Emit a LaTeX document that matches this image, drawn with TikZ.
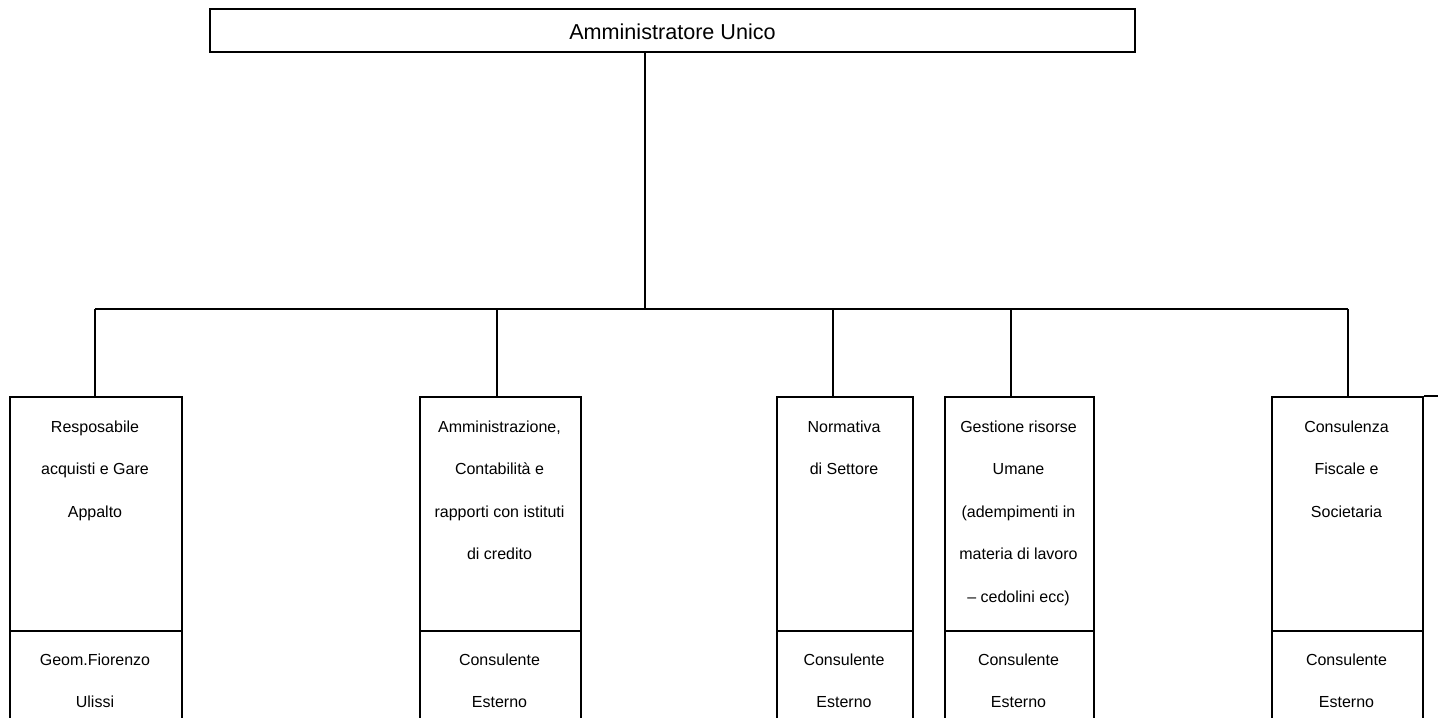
\documentclass[tikz,border=0pt]{standalone}
\usepackage{fontspec}
\setmainfont{Liberation Sans}
\begin{document}
\begin{tikzpicture}[x=1pt,y=-1pt,
  box/.style={draw, line width=2.2pt, rectangle, anchor=north west, inner sep=0pt},
  label/.style={anchor=north, align=center, inner sep=0pt, font=\fontsize{16pt}{42.5pt}\selectfont},
  link/.style={line width=2.2pt}]
\useasboundingbox (0,0) rectangle (1442,717);
\clip (0,0) rectangle (1442,717);
% top box
\node[box, minimum width=925pt, minimum height=43pt] (top) at (209,8) {};
\node[anchor=base, inner sep=0pt, font=\fontsize{21.6pt}{25pt}\selectfont] (toptext) at (672.5,40) {Amministratore Unico};
% upper boxes
\node[box, minimum width=172pt, minimum height=234pt] (b1) at (9,396) {};
\node[box, minimum width=161pt, minimum height=234pt] (b2) at (419,396) {};
\node[box, minimum width=136pt, minimum height=234pt] (b3) at (776,396) {};
\node[box, minimum width=149pt, minimum height=234pt] (b4) at (944,396) {};
\node[box, minimum width=151pt, minimum height=234pt] (b5) at (1271,396) {};
% lower boxes
\node[box, minimum width=172pt, minimum height=130pt] (c1) at (9,630) {};
\node[box, minimum width=161pt, minimum height=130pt] (c2) at (419,630) {};
\node[box, minimum width=136pt, minimum height=130pt] (c3) at (776,630) {};
\node[box, minimum width=149pt, minimum height=130pt] (c4) at (944,630) {};
\node[box, minimum width=151pt, minimum height=130pt] (c5) at (1271,630) {};
\draw[link] (b5.north east) -- ++(14,0) coordinate (b5tail);
% texts
\node[label] (t1) at (95,420.5) {Resposabile\\acquisti e Gare\\Appalto};
\node[label] (t2) at (499.5,420.5) {Amministrazione,\\Contabilità e\\rapporti con istituti\\di credito};
\node[label] (t3) at (844,420.5) {Normativa\\di Settore};
\node[label] (t4) at (1018.5,420.5) {Gestione risorse\\Umane\\(adempimenti in\\materia di lavoro\\– cedolini ecc)};
\node[label] (t5) at (1346.5,420.5) {Consulenza\\Fiscale e\\Societaria};
\node[label] (u1) at (95,653.5) {Geom.Fiorenzo\\Ulissi};
\node[label] (u2) at (499.5,653.5) {Consulente\\Esterno};
\node[label] (u3) at (844,653.5) {Consulente\\Esterno};
\node[label] (u4) at (1018.5,653.5) {Consulente\\Esterno};
\node[label] (u5) at (1346.5,653.5) {Consulente\\Esterno};
% connectors
\coordinate (bus) at (645,309);
\coordinate (j1) at (95,309);
\coordinate (j2) at (497,309);
\coordinate (j3) at (833,309);
\coordinate (j4) at (1011,309);
\coordinate (j5) at (1348,309);
\draw[link] (top.south -| bus) -- (bus);
\draw[link] (j1) -- (j5);
\draw[link] (j1) -- (j1 |- b1.north);
\draw[link] (j2) -- (j2 |- b2.north);
\draw[link] (j3) -- (j3 |- b3.north);
\draw[link] (j4) -- (j4 |- b4.north);
\draw[link] (j5) -- (j5 |- b5.north);
\end{tikzpicture}
\end{document}
